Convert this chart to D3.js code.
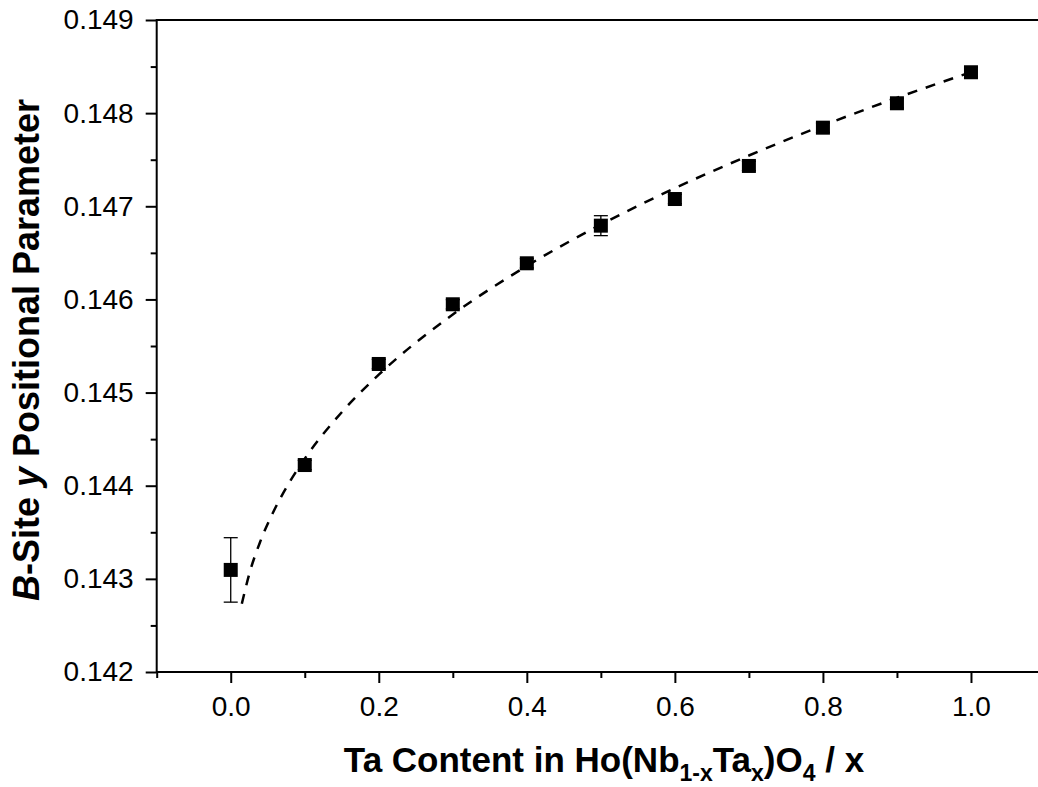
<!DOCTYPE html>
<html>
<head>
<meta charset="utf-8">
<script src="https://cdn.jsdelivr.net/npm/d3@7"></script>
<style>
  html, body { margin: 0; padding: 0; background: #fff; }
  svg { display: block; font-family: "Liberation Sans", Arial, sans-serif; }
</style>
</head>
<body>
<svg id="chart" width="1038" height="787"></svg>
<script>
// Ta content x in Ho(Nb1-xTax)O4
const taContent = [0.0, 0.1, 0.2, 0.3, 0.4, 0.5, 0.6, 0.7, 0.8, 0.9, 1.0];
// B-site y positional parameter
const bSiteY = [0.143096, 0.144222, 0.145307, 0.145948, 0.146388, 0.146792,
                0.147078, 0.147433, 0.147844, 0.148106, 0.148439];
// standard uncertainties
const bSiteErr = [0.000346, 0.00005, 0.00005, 0.00005, 0.00005, 0.000107,
                  0.00005, 0.00005, 0.00005, 0.00005, 0.00005];

// fitted trend line, sampled
const fitX = [0.015, 0.025, 0.04, 0.06, 0.08, 0.1, 0.15, 0.2, 0.3, 0.4,
              0.5, 0.6, 0.7, 0.8, 0.9, 1.0];
const fitY = [0.142732, 0.143051, 0.143402, 0.143758, 0.144045, 0.144290,
              0.144789, 0.145192, 0.145838, 0.146359, 0.146803, 0.147194,
              0.147545, 0.147867, 0.148164, 0.148440];

// axis ticks
const xMajor = [0.0, 0.2, 0.4, 0.6, 0.8, 1.0];
const xMinor = [-0.1, 0.1, 0.3, 0.5, 0.7, 0.9, 1.1];
const yMajor = [0.142, 0.143, 0.144, 0.145, 0.146, 0.147, 0.148, 0.149];
const yMinor = [0.1425, 0.1435, 0.1445, 0.1455, 0.1465, 0.1475, 0.1485];

const svg = d3.select("#chart");
const margin = { left: 156.7, top: 20, right: 1045, bottom: 672 };

const x = d3.scaleLinear().domain([-0.1, 1.1]).range([margin.left, margin.right]);
const y = d3.scaleLinear().domain([0.142, 0.149]).range([margin.bottom, margin.top]);

// frame
svg.append("rect")
  .attr("x", margin.left).attr("y", margin.top)
  .attr("width", margin.right - margin.left)
  .attr("height", margin.bottom - margin.top)
  .attr("fill", "none").attr("stroke", "#000").attr("stroke-width", 2);

function styleAxis(g) {
  g.select(".domain").remove();
  g.selectAll(".tick line").attr("stroke", "#000").attr("stroke-width", 2);
  g.selectAll(".tick text").attr("fill", "#000")
    .style("font-size", "28px").style("font-family", "'Liberation Sans', Arial, sans-serif");
}

// x axis
svg.append("g").attr("transform", `translate(0,${margin.bottom})`)
  .call(d3.axisBottom(x).tickValues(xMinor).tickSize(6).tickFormat(""))
  .call(styleAxis);
svg.append("g").attr("transform", `translate(0,${margin.bottom})`)
  .call(d3.axisBottom(x).tickValues(xMajor).tickSize(11).tickPadding(13)
        .tickFormat(d3.format(".1f")))
  .call(styleAxis);

// y axis
svg.append("g").attr("transform", `translate(${margin.left},0)`)
  .call(d3.axisLeft(y).tickValues(yMinor).tickSize(6).tickFormat(""))
  .call(styleAxis);
svg.append("g").attr("transform", `translate(${margin.left},0)`)
  .call(d3.axisLeft(y).tickValues(yMajor).tickSize(11).tickPadding(12)
        .tickFormat(d3.format(".3f")))
  .call(styleAxis);

// fit line
const line = d3.line().x(d => x(d[0])).y(d => y(d[1])).curve(d3.curveMonotoneX);
svg.append("path")
  .datum(fitX.map((v, i) => [v, fitY[i]]))
  .attr("d", line)
  .attr("fill", "none").attr("stroke", "#000")
  .attr("stroke-width", 2.5).attr("stroke-dasharray", "10,9");

// error bars
const pts = taContent.map((v, i) => ({ x: v, y: bSiteY[i], e: bSiteErr[i] }));
const capW = 7;
const eb = svg.append("g").attr("stroke", "#000").attr("stroke-width", 1.3);
pts.forEach(p => {
  const cx = x(p.x), y1 = y(p.y + p.e), y0 = y(p.y - p.e);
  eb.append("line").attr("x1", cx).attr("x2", cx).attr("y1", y1).attr("y2", y0);
  eb.append("line").attr("x1", cx - capW).attr("x2", cx + capW).attr("y1", y1).attr("y2", y1);
  eb.append("line").attr("x1", cx - capW).attr("x2", cx + capW).attr("y1", y0).attr("y2", y0);
});

// data markers
const s = 14;
svg.append("g").selectAll("rect").data(pts).join("rect")
  .attr("x", d => x(d.x) - s / 2).attr("y", d => y(d.y) - s / 2)
  .attr("width", s).attr("height", s).attr("fill", "#000");

// x title
const xt = svg.append("text")
  .attr("x", 604).attr("y", 772)
  .attr("text-anchor", "middle")
  .style("font-size", "35px").style("font-weight", "bold");
xt.append("tspan").text("Ta Content in Ho(Nb");
xt.append("tspan").attr("dy", 9).style("font-size", "23px").text("1-x");
xt.append("tspan").attr("dy", -9).text("Ta");
xt.append("tspan").attr("dy", 9).style("font-size", "23px").text("x");
xt.append("tspan").attr("dy", -9).text(")O");
xt.append("tspan").attr("dy", 9).style("font-size", "23px").text("4");
xt.append("tspan").attr("dy", -9).text(" / x");

// y title
const yt = svg.append("text")
  .attr("transform", `translate(39,${(margin.top + margin.bottom) / 2 + 4}) rotate(-90)`)
  .attr("text-anchor", "middle")
  .style("font-size", "36px").style("font-weight", "bold");
yt.append("tspan").style("font-style", "italic").text("B");
yt.append("tspan").text("-Site ");
yt.append("tspan").style("font-style", "italic").text("y");
yt.append("tspan").text(" Positional Parameter");
</script>
</body>
</html>
